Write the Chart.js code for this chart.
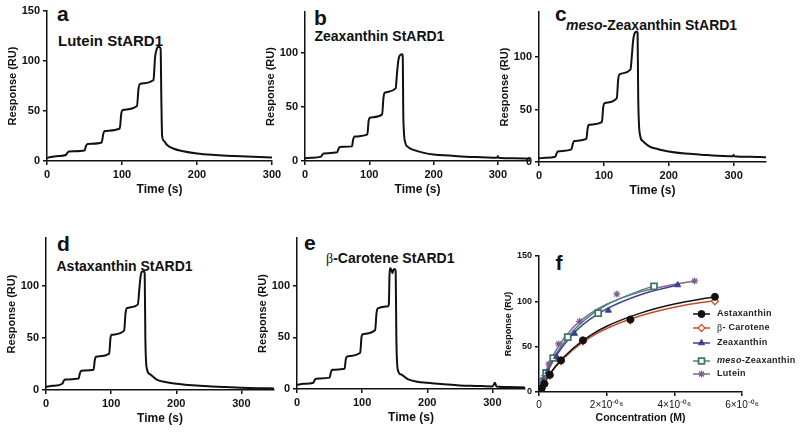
<!DOCTYPE html>
<html>
<head>
<meta charset="utf-8">
<script src="https://cdn.jsdelivr.net/npm/chart.js@4.4.0/dist/chart.umd.min.js"></script>
<style>
  body { margin: 0; width: 800px; height: 432px; position: relative; overflow: hidden; background: #fff;
         font-family: "Liberation Sans", Arial, sans-serif; color: #111; }
  canvas { position: absolute; }
  .lbl { position: absolute; font-weight: bold; line-height: 1; white-space: nowrap; }
  .letter { font-size: 21px; }
  .sub { font-size: 14px; }
  .serif { font-family: "Liberation Serif", "Times New Roman", serif; font-weight: normal; }
</style>
</head>
<body>
<div class="lbl letter" style="left:57px;top:3px">a</div>
<div class="lbl sub" style="left:58px;top:33px;font-size:15px">Lutein StARD1</div>
<div class="lbl letter" style="left:314px;top:7px">b</div>
<div class="lbl sub" style="left:314.5px;top:29px">Zeaxanthin StARD1</div>
<div class="lbl letter" style="left:555px;top:3px">c</div>
<div class="lbl sub" style="left:566px;top:18px"><i>meso</i>-Zeaxanthin StARD1</div>
<div class="lbl letter" style="left:57px;top:233px">d</div>
<div class="lbl sub" style="left:56.5px;top:259px">Astaxanthin StARD1</div>
<div class="lbl letter" style="left:304px;top:232px">e</div>
<div class="lbl sub" style="left:326px;top:250.5px"><span class="serif">β</span>-Carotene StARD1</div>
<div class="lbl letter" style="left:555.5px;top:252px">f</div>

<script>
// ---- axis ticks ----
const timeTicks = [0, 100, 200, 300];
const respTicksFull = [0, 50, 100, 150];
const respTicks = [0, 50, 100];
const concTicks = [0, 2e-6, 4e-6, 6e-6];
const concTickLabels = ['0', '2×10⁻⁰⁶', '4×10⁻⁰⁶', '6×10⁻⁰⁶'];

// ---- sensorgrams (time s, response RU) ----
const luteinT = [0, 5, 15, 25, 27, 29, 50, 52, 54, 73, 75, 77, 97, 99, 101, 120, 122, 124, 142, 143, 144, 146, 148, 150, 151.5, 152.5, 153.5, 156, 160, 170, 180, 200, 225, 250, 275, 300];
const luteinV = [3, 4, 5, 6, 8, 9.5, 10.5, 15, 17, 18.5, 27, 30, 32.5, 47, 51, 55, 72, 77, 81, 90, 103, 111, 114, 114, 112, 60, 25, 20, 16, 12, 10, 7.5, 6, 5, 4.2, 3.5];

const zeaT = [0, 10, 25, 27, 29, 50, 52, 54, 73, 75, 77, 97, 99, 101, 120, 122, 124, 141, 143, 145, 147, 151, 152, 153, 156, 160, 170, 185, 200, 225, 250, 275, 299, 300, 301, 325, 350];
const zeaV = [2.5, 3, 4, 6, 7, 8, 11, 13, 13.5, 20, 22.5, 24.5, 37, 40, 43, 58, 63, 67, 80, 92, 97, 98.5, 97, 40, 17, 13, 10, 7.5, 6, 5, 4, 3.5, 3, 4.5, 3, 2.5, 2];

const mesoT = [0, 10, 25, 27, 29, 50, 52, 54, 73, 75, 77, 97, 99, 101, 120, 122, 124, 141, 143, 145, 147, 151, 152, 153, 156, 160, 170, 185, 200, 225, 250, 275, 299, 300, 301, 325, 350];
const mesoV = [3.5, 4, 5, 8, 10, 12, 17, 20, 22, 32, 35.5, 38, 52, 56, 61, 78, 83.5, 88, 100, 115, 122, 124.5, 123, 60, 25, 20, 15, 12, 10, 8, 7, 6, 5.5, 7, 5.5, 5, 4.5];

const astaT = [0, 10, 25, 27, 29, 50, 52, 54, 73, 75, 77, 97, 99, 101, 120, 122, 124, 141, 143, 145, 147, 150, 151.5, 152.5, 155, 160, 170, 185, 200, 225, 250, 275, 300, 325, 350];
const astaV = [3, 4, 6, 8.5, 10, 11, 16, 18.5, 19.5, 29, 32, 35, 50, 53, 57, 73, 78.5, 82, 95, 108, 113.5, 114, 112, 50, 20, 15, 10, 7.5, 6, 4.5, 3.5, 2.8, 2.2, 1.8, 1.5];

const betaT = [0, 10, 25, 27, 29, 50, 52, 54, 73, 75, 77, 97, 99, 101, 120, 122, 124, 140, 141, 142, 143, 145, 146.5, 148, 150, 151.5, 152.5, 155, 160, 170, 185, 200, 225, 250, 275, 300, 304, 306, 325, 350];
const betaV = [4, 5, 6, 8.5, 10, 11, 16, 18.5, 19.5, 29, 31.5, 35, 50, 53, 57, 73, 78, 80, 82, 110, 117, 115, 112, 115, 116, 114, 50, 18, 14, 9.5, 7, 6, 4.5, 3.5, 3, 2.5, 6, 2.5, 2, 1.5];

// ---- panel f: binding points (M, RU) ----
const astaConc = [0.08e-6, 0.16e-6, 0.32e-6, 0.65e-6, 1.3e-6, 2.7e-6, 5.2e-6];
const astaResp = [4, 9, 19, 35, 57, 80, 105];
const betaConc = [0.08e-6, 0.16e-6, 0.32e-6, 0.65e-6, 1.3e-6, 2.7e-6, 5.2e-6];
const betaResp = [4, 9, 18, 34, 56, 79, 100];
const zeaConc = [0.065e-6, 0.13e-6, 0.26e-6, 0.52e-6, 1.05e-6, 2.05e-6, 4.1e-6];
const zeaResp = [5, 12, 22, 39, 64.5, 90, 118];
const mesoConc = [0.053e-6, 0.106e-6, 0.21e-6, 0.42e-6, 0.85e-6, 1.75e-6, 3.4e-6];
const mesoResp = [5, 11, 21, 37.5, 60.5, 87, 116.5];
const lutConc = [0.072e-6, 0.144e-6, 0.29e-6, 0.58e-6, 1.2e-6, 2.3e-6, 4.6e-6];
const lutResp = [7, 16, 31, 53, 78, 108, 122.5];

// ---- panel f: fitted curves ----
const astaFitX = [0, 0.1e-6, 0.25e-6, 0.5e-6, 1e-6, 1.5e-6, 2e-6, 3e-6, 4e-6, 5.2e-6];
const astaFitY = [0, 7, 16, 29, 48, 62, 72.5, 87, 97, 105];
const betaFitX = [0, 0.1e-6, 0.25e-6, 0.5e-6, 1e-6, 1.5e-6, 2e-6, 3e-6, 4e-6, 5.2e-6];
const betaFitY = [0, 6.5, 15, 28, 46.5, 60, 70, 84, 93.5, 101];
const zeaFitX = [0, 0.1e-6, 0.25e-6, 0.5e-6, 1e-6, 1.5e-6, 2e-6, 3e-6, 4.1e-6];
const zeaFitY = [0, 9.9, 22.6, 39.7, 63.8, 80, 91.7, 107.3, 118];
const mesoFitX = [0, 0.1e-6, 0.25e-6, 0.5e-6, 1e-6, 1.5e-6, 2e-6, 3e-6, 3.4e-6];
const mesoFitY = [0, 10.4, 23.9, 41.9, 67, 84, 96, 112, 117];
const lutFitX = [0, 0.1e-6, 0.25e-6, 0.5e-6, 1e-6, 1.5e-6, 2e-6, 3e-6, 4e-6, 4.63e-6];
const lutFitY = [0, 12, 27, 46, 70.8, 86.2, 96.8, 110.4, 118.8, 122.5];

const legendLabels = ['Astaxanthin', 'β- Carotene', 'Zeaxanthin', 'meso-Zeaxanthin', 'Lutein'];

const FONT = 'Liberation Sans';
const INK = '#111';
const WY = 41, PAD_T = 10;

const pts = (xs, ys) => xs.map((x, i) => ({ x, y: ys[i] }));

function placeCanvas(area, hx, padR) {
  const c = document.createElement('canvas');
  const w = area.r - area.l + WY + padR;
  const h = area.b - area.t + PAD_T + hx;
  c.width = w; c.height = h;
  c.style.left = (area.l - WY) + 'px';
  c.style.top = (area.t - PAD_T) + 'px';
  c.style.width = w + 'px'; c.style.height = h + 'px';
  document.body.appendChild(c);
  return c;
}

function axis(kind, min, max, ticks, title, size, o) {
  return {
    type: 'linear', min, max,
    afterBuildTicks: s => { s.ticks = ticks.map(v => ({ value: v })); },
    afterFit: s => { if (kind === 'x') s.height = size; else s.width = size; },
    ticks: {
      color: INK, padding: 3, maxRotation: 0, autoSkip: false,
      font: o.tickFont || { family: FONT, size: 11, weight: 'bold' },
      callback: (v, i) => (o.labels ? o.labels[i] : String(v)),
    },
    grid: { drawOnChartArea: false, drawTicks: true, tickLength: 4, color: INK, lineWidth: 1.5 },
    border: { color: INK, width: 1.5 },
    title: {
      display: true, text: title, color: INK, padding: o.titlePad || 0,
      font: { family: FONT, size: o.titleSize || (kind === 'x' ? 12 : 11), weight: 'bold' },
    },
  };
}

function sensorgram(area, xMax, yMax, yTicks, T, V) {
  const hx = 36;
  const canvas = placeCanvas(area, hx, 14);
  return new Chart(canvas, {
    type: 'line',
    data: {
      datasets: [{
        data: pts(T, V), borderColor: INK, borderWidth: 2, pointRadius: 0,
        cubicInterpolationMode: 'monotone', fill: false,
      }],
    },
    options: {
      responsive: false, animation: false, devicePixelRatio: 1,
      layout: { padding: { top: PAD_T, right: 14, left: 0, bottom: 0 } },
      plugins: { legend: { display: false }, tooltip: { enabled: false } },
      scales: {
        x: axis('x', 0, xMax, timeTicks, 'Time (s)', hx, {}),
        y: axis('y', 0, yMax, yTicks, 'Response (RU)', WY, {}),
      },
    },
  });
}

sensorgram({ l: 47, t: 11, r: 272, b: 161 }, 300, 150, respTicksFull, luteinT, luteinV);
sensorgram({ l: 305, t: 12, r: 530, b: 161 }, 350, 137.5, respTicks, zeaT, zeaV);
sensorgram({ l: 539, t: 12, r: 766, b: 162 }, 350, 143, respTicks, mesoT, mesoV);
sensorgram({ l: 46, t: 238, r: 274, b: 390 }, 350, 146, respTicks, astaT, astaV);
sensorgram({ l: 297, t: 238, r: 525, b: 389 }, 350, 146, respTicks, betaT, betaV);

// ---- panel f ----
const series = [
  { conc: astaConc, resp: astaResp, fx: astaFitX, fy: astaFitY, color: '#111111', line: '#111111', style: 'circle', r: 3.5, bg: '#111111', bw: 1 },
  { conc: betaConc, resp: betaResp, fx: betaFitX, fy: betaFitY, color: '#d0532b', line: '#c94a2a', style: 'rectRot', r: 3.5, bg: '#ffffff', bw: 1.3 },
  { conc: zeaConc, resp: zeaResp, fx: zeaFitX, fy: zeaFitY, color: '#3d3f8e', line: '#3d418f', style: 'triangle', r: 3.5, bg: '#3d3f8e', bw: 1 },
  { conc: mesoConc, resp: mesoResp, fx: mesoFitX, fy: mesoFitY, color: '#3f7a66', line: '#4a8a76', style: 'rect', r: 4.2, bg: '#ffffff', bw: 1.8 },
  { conc: lutConc, resp: lutResp, fx: lutFitX, fy: lutFitY, color: '#7d5d8c', line: '#86679a', style: 'star', r: 3.5, bg: '#7d5d8c', bw: 1.2 },
];

const fDatasets = [];
series.forEach((s) => {
  fDatasets.push({
    data: pts(s.fx, s.fy), showLine: true, borderColor: s.line, borderWidth: 1.5,
    pointRadius: 0, cubicInterpolationMode: 'monotone', order: 2,
  });
  fDatasets.push({
    data: pts(s.conc, s.resp), showLine: false, pointStyle: s.style, pointRadius: s.r,
    pointBackgroundColor: s.bg, pointBorderColor: s.color, pointBorderWidth: s.bw, order: 1,
  });
});

const fLegend = {
  id: 'fLegend',
  afterDatasetsDraw(chart) {
    const { ctx, chartArea } = chart;
    const rows = [58, 72, 87, 105, 118];
    const x0 = chartArea.left + 154, x1 = chartArea.left + 171, tx = chartArea.left + 178;
    ctx.save();
    series.forEach((s, i) => {
      const y = chartArea.top + rows[i];
      ctx.strokeStyle = s.line; ctx.lineWidth = 1.5;
      ctx.beginPath(); ctx.moveTo(x0, y); ctx.lineTo(x1, y); ctx.stroke();
      ctx.fillStyle = s.bg; ctx.strokeStyle = s.color; ctx.lineWidth = s.bw;
      Chart.helpers.drawPoint(ctx, { pointStyle: s.style, radius: s.r, borderWidth: s.bw, rotation: 0 }, (x0 + x1) / 2, y);
      // label, with italic "meso" and serif beta
      ctx.fillStyle = '#222'; ctx.textBaseline = 'middle'; ctx.letterSpacing = '0.3px';
      const label = legendLabels[i];
      let x = tx;
      const runs = [];
      if (label.startsWith('meso')) { runs.push(['italic bold 9px ' + FONT, 'meso']); runs.push(['bold 9px ' + FONT, label.slice(4)]); }
      else if (label.startsWith('β')) { runs.push(['10px "Liberation Serif"', 'β']); runs.push(['bold 9px ' + FONT, label.slice(1)]); }
      else runs.push(['bold 9px ' + FONT, label]);
      runs.forEach(([font, txt]) => { ctx.font = font; ctx.fillText(txt, x, y); x += ctx.measureText(txt).width; });
    });
    ctx.restore();
  },
};

const fArea = { l: 539, t: 256, r: 742, b: 392 };
const fCanvas = placeCanvas(fArea, 32, 58);
new Chart(fCanvas, {
  type: 'scatter',
  data: { datasets: fDatasets },
  options: {
    responsive: false, animation: false, devicePixelRatio: 1,
    layout: { padding: { top: PAD_T, right: 58, left: 0, bottom: 0 } },
    plugins: { legend: { display: false }, tooltip: { enabled: false } },
    scales: {
      x: axis('x', 0, 6e-6, concTicks, 'Concentration (M)', 32,
        { labels: concTickLabels, titleSize: 10.5, tickFont: { family: FONT, size: 10 } }),
      y: axis('y', 0, 150, respTicksFull, 'Response (RU)', WY,
        { titleSize: 9, titlePad: { top: 5, bottom: 0 }, tickFont: { family: FONT, size: 9, weight: 'bold' } }),
    },
  },
  plugins: [fLegend],
});
</script>
</body>
</html>
